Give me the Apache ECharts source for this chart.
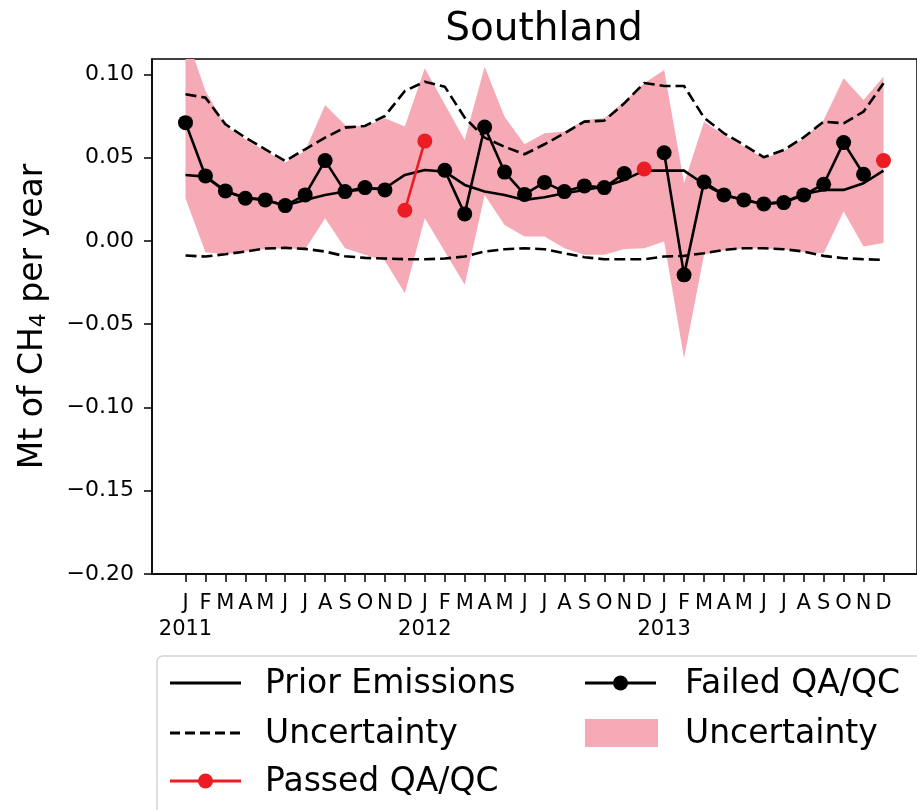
<!DOCTYPE html>
<html>
<head>
<meta charset="utf-8">
<script src="https://cdn.jsdelivr.net/npm/echarts@6/dist/echarts.min.js"></script>
<style>
  html, body { margin: 0; padding: 0; background: #fff; }
  #chart { width: 917px; height: 810px; }
</style>
</head>
<body>
<div id="chart"></div>
<script>
// Monthly methane emissions for Southland, Jan 2011 – Dec 2013 (Mt CH4 / year)
const monthLabels = ['J','F','M','A','M','J','J','A','S','O','N','D',
                     'J','F','M','A','M','J','J','A','S','O','N','D',
                     'J','F','M','A','M','J','J','A','S','O','N','D'];
const yearLabels = ['2011', '2012', '2013'];
const yTicks = [-0.20, -0.15, -0.10, -0.05, 0.00, 0.05, 0.10];

const priorEmissions = [0.0396,0.0386,0.0296,0.0260,0.0246,0.0212,0.0246,0.0276,0.0296,0.0310,0.0316,0.0396,
                        0.0426,0.0416,0.0336,0.0296,0.0276,0.0246,0.0262,0.0286,0.0306,0.0326,0.0366,0.0422,
                        0.0422,0.0422,0.0340,0.0276,0.0246,0.0222,0.0234,0.0280,0.0306,0.0306,0.0346,0.0422];

const priorUpper = [0.088,0.086,0.070,0.062,0.055,0.048,0.055,0.062,0.068,0.069,0.075,0.090,
                    0.0956,0.0926,0.0740,0.0620,0.0565,0.0520,0.0580,0.0646,0.0716,0.0722,0.0826,0.0948,
                    0.0930,0.0930,0.0740,0.0646,0.0576,0.0502,0.0546,0.0622,0.0716,0.0706,0.0776,0.0946];

const priorLower = [-0.0088,-0.0094,-0.0080,-0.0064,-0.0046,-0.0042,-0.0048,-0.0064,-0.0092,-0.0102,-0.0106,-0.0110,
                    -0.0110,-0.0106,-0.0094,-0.0064,-0.0050,-0.0044,-0.0050,-0.0074,-0.0098,-0.0110,-0.0110,-0.0110,
                    -0.0094,-0.0090,-0.0074,-0.0054,-0.0044,-0.0044,-0.0050,-0.0064,-0.0090,-0.0104,-0.0110,-0.0114];

const failedQaqc = [0.0710,0.0390,0.0300,0.0256,0.0246,0.0212,0.0276,0.0482,0.0296,0.0320,0.0306,null,
                    null,0.0424,0.0162,0.0684,0.0413,0.0279,0.0351,0.0296,0.0330,0.0320,0.0404,null,
                    0.0529,-0.0204,0.0353,0.0276,0.0246,0.0222,0.0230,0.0276,0.0340,0.0590,0.0400,null];

const passedQaqc = [null,null,null,null,null,null,null,null,null,null,null,0.0184,
                    0.0599,null,null,null,null,null,null,null,null,null,null,0.0432,
                    null,null,null,null,null,null,null,null,null,null,null,0.0482];

const bandUpper = [0.125,0.090,0.069,0.061,0.054,0.047,0.054,0.0816,0.0696,0.0686,0.0736,0.0686,
                   0.1036,0.0820,0.0606,0.1046,0.0746,0.0580,0.0646,0.0656,0.0726,0.0736,0.0836,0.0946,
                   0.1026,0.0346,0.0716,0.0636,0.0566,0.0495,0.0540,0.0615,0.0726,0.0976,0.0846,0.0986];

const bandLower = [0.0256,-0.0068,-0.0080,-0.0064,-0.0048,-0.0044,-0.0050,0.0136,-0.0044,-0.0084,-0.0120,-0.0314,
                   0.0136,-0.0064,-0.0264,0.0276,0.0096,0.0026,0.0026,-0.0044,-0.0084,-0.0084,-0.0048,-0.0044,
                   -0.0004,-0.0704,-0.0084,-0.0056,-0.0046,-0.0046,-0.0052,-0.0066,-0.0074,0.0176,-0.0034,-0.0012];

const FONT = 'DejaVu Sans';
const PINK = '#f6aab6';
const RED = '#ec1c24';
const X_MIN = -0.68, X_MAX = 37.68;

// months are placed at x = 1..36 (month number counted from Jan 2011)
const xTicks = monthLabels.map((_, i) => i + 1);
const yearTicks = yearLabels.map((_, k) => 12 * k + 1);
const pairs = arr => arr.map((v, i) => [i + 1, v === null ? '-' : v]);
const fmtY = v => (v < 0 ? '\u2212' : '') + Math.abs(v).toFixed(2);

const chart = echarts.init(document.getElementById('chart'), null, { renderer: 'canvas' });

// legend drawn as graphic items so both "Uncertainty" entries can coexist
const L = { c1: 170, c2: 585, hw: 71, t1: 265, t2: 685, rows: [683, 733, 781] };
const legendText = (x, y, s) => ({
  type: 'text',
  style: { x: x, y: y + 1, text: s, fontFamily: FONT, fontSize: 33, fill: '#000', verticalAlign: 'middle' }
});
const legendLine = (x, y, color, dash) => ({
  type: 'line', shape: { x1: x, y1: y, x2: x + L.hw, y2: y },
  style: { stroke: color, lineWidth: 2.8, lineDash: dash || null }
});
const legendDot = (x, y, color) => ({
  type: 'circle', shape: { cx: x + L.hw / 2, cy: y, r: 7.5 }, style: { fill: color }
});

// filled envelope between bandLower and bandUpper, clipped to the plot area
function renderBand(params, api) {
  if (params.dataIndex !== 0) return null;
  const top = bandUpper.map((v, i) => api.coord([i + 1, v]));
  const bottom = bandLower.map((v, i) => api.coord([i + 1, v])).reverse();
  const cs = params.coordSys;
  return {
    type: 'polygon',
    shape: { points: top.concat(bottom) },
    style: { fill: PINK },
    clipPath: { type: 'rect', shape: { x: cs.x, y: cs.y, width: cs.width, height: cs.height } }
  };
}

chart.setOption({
  animation: false,
  backgroundColor: '#fff',
  title: {
    text: 'Southland',
    left: 539, top: 5, textAlign: 'center',
    textStyle: { fontFamily: FONT, fontSize: 39, fontWeight: 'normal', color: '#000' }
  },
  grid: {
    left: 152, top: 59, width: 775, height: 515,
    show: true, borderColor: '#000', borderWidth: 1.5, containLabel: false
  },
  xAxis: [
    {
      // month ticks and initials
      type: 'value', min: X_MIN, max: X_MAX,
      axisLine: { onZero: false, lineStyle: { color: '#000', width: 1.5 } },
      axisTick: { customValues: xTicks, length: 8, lineStyle: { color: '#000', width: 1.5 } },
      axisLabel: {
        customValues: xTicks, margin: 19, showMinLabel: true, showMaxLabel: true,
        fontFamily: FONT, fontSize: 21, color: '#000',
        formatter: v => monthLabels[Math.round(v) - 1]
      },
      splitLine: { show: false }
    },
    {
      // year labels under each January
      type: 'value', min: X_MIN, max: X_MAX, position: 'bottom',
      axisLine: { show: false, onZero: false },
      axisTick: { show: false },
      axisLabel: {
        customValues: yearTicks, margin: 45, showMinLabel: true, showMaxLabel: true,
        fontFamily: FONT, fontSize: 21, color: '#000',
        formatter: v => yearLabels[(Math.round(v) - 1) / 12]
      },
      splitLine: { show: false }
    }
  ],
  yAxis: {
    type: 'value', min: -0.20, max: 0.1092,
    axisLine: { show: true, onZero: false, lineStyle: { color: '#000', width: 1.5 } },
    axisTick: { show: true, customValues: yTicks, length: 8, lineStyle: { color: '#000', width: 1.5 } },
    axisLabel: {
      customValues: yTicks, margin: 18, showMinLabel: true, showMaxLabel: true,
      fontFamily: FONT, fontSize: 22, color: '#000', formatter: fmtY
    },
    splitLine: { show: false },
    name: '{a|Mt of CH}{s|4}{a| per year}',
    nameLocation: 'middle', nameGap: 102, nameRotate: 90,
    nameTextStyle: {
      rich: {
        a: { fontFamily: FONT, fontSize: 33, color: '#000' },
        s: { fontFamily: FONT, fontSize: 22, color: '#000', padding: [12, 0, 0, 0] }
      }
    }
  },
  series: [
    {
      name: 'Uncertainty band', type: 'custom', renderItem: renderBand,
      data: bandUpper.map((u, i) => [i + 1, u, bandLower[i]]),
      encode: { x: 0, y: [1, 2] }, silent: true, z: 1
    },
    {
      name: 'Uncertainty', type: 'line', data: pairs(priorUpper), symbol: 'none',
      lineStyle: { color: '#000', width: 2.6, type: [11, 5] }, z: 3
    },
    {
      name: 'Uncertainty lower', type: 'line', data: pairs(priorLower), symbol: 'none',
      lineStyle: { color: '#000', width: 2.6, type: [11, 5] }, z: 3
    },
    {
      name: 'Prior Emissions', type: 'line', data: pairs(priorEmissions), symbol: 'none',
      lineStyle: { color: '#000', width: 2.6 }, z: 4
    },
    {
      name: 'Failed QA/QC', type: 'line', data: pairs(failedQaqc), connectNulls: false,
      symbol: 'circle', symbolSize: 15, showSymbol: true,
      itemStyle: { color: '#000' }, lineStyle: { color: '#000', width: 2.6 }, z: 5
    },
    {
      name: 'Passed QA/QC', type: 'line', data: pairs(passedQaqc), connectNulls: false,
      symbol: 'circle', symbolSize: 15, showSymbol: true,
      itemStyle: { color: RED }, lineStyle: { color: RED, width: 2.6 }, z: 6
    }
  ],
  graphic: [
    {
      type: 'rect', shape: { x: 157, y: 656, width: 800, height: 200, r: 6 },
      style: { fill: 'rgba(255,255,255,0.8)', stroke: '#d4d4d4', lineWidth: 1.5 }
    },
    legendLine(L.c1, L.rows[0], '#000'),
    legendText(L.t1, L.rows[0], 'Prior Emissions'),
    legendLine(L.c1, L.rows[1], '#000', [10, 5]),
    legendText(L.t1, L.rows[1], 'Uncertainty'),
    legendLine(L.c1, L.rows[2], RED),
    legendDot(L.c1, L.rows[2], RED),
    legendText(L.t1, L.rows[2], 'Passed QA/QC'),
    legendLine(L.c2, L.rows[0], '#000'),
    legendDot(L.c2, L.rows[0], '#000'),
    legendText(L.t2, L.rows[0], 'Failed QA/QC'),
    { type: 'rect', shape: { x: L.c2, y: L.rows[1] - 14, width: 73, height: 28 }, style: { fill: PINK } },
    legendText(L.t2, L.rows[1], 'Uncertainty')
  ]
});
</script>
</body>
</html>
